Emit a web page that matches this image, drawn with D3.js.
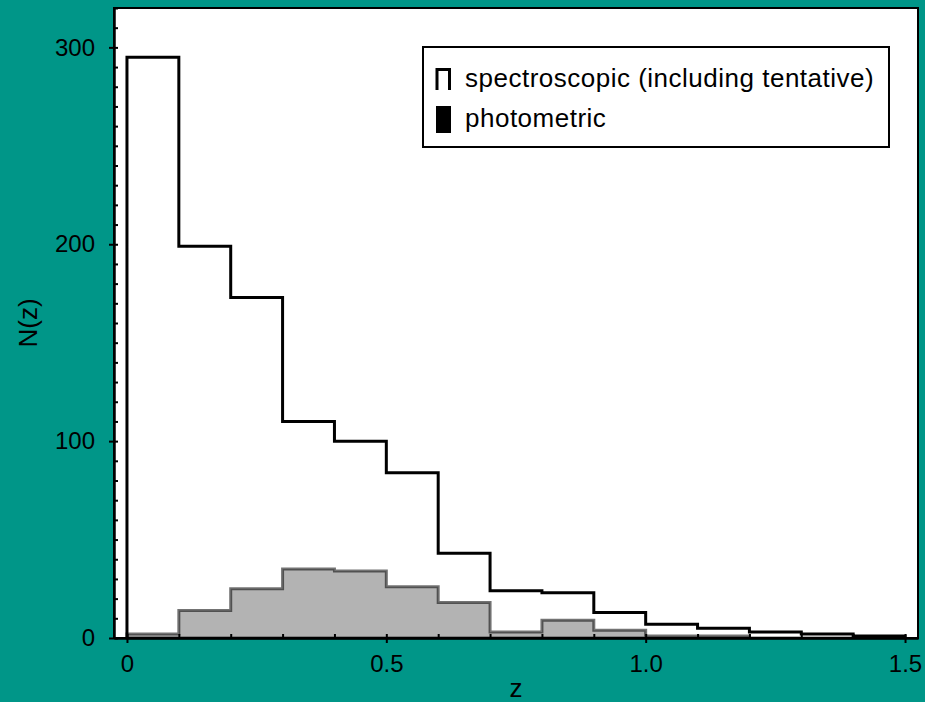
<!DOCTYPE html>
<html>
<head>
<meta charset="utf-8">
<script src="https://cdn.jsdelivr.net/npm/d3@7"></script>
<style>
  html, body { margin: 0; padding: 0; background: #009688; }
  svg { display: block; }
  text { font-family: "Liberation Sans", Arial, sans-serif; fill: #000; }
</style>
</head>
<body>
<svg id="chart" width="925" height="702"></svg>
<script>
// Redshift bins (left edges, width 0.1)
const binEdges = [0, 0.1, 0.2, 0.3, 0.4, 0.5, 0.6, 0.7, 0.8, 0.9, 1.0, 1.1, 1.2, 1.3, 1.4];
const binWidth = 0.1;

// Counts per bin
const spectroscopic = [295, 199, 173, 110, 100, 84, 43, 24, 23, 13, 7, 5, 3, 2, 1];
const photometric   = [2, 14, 25, 35, 34, 26, 18, 3, 9, 4, 1, 1, 0, 0, 0];

// Axis ticks
const xMajorTicks = [0, 0.5, 1.0, 1.5];
const xMinorTicks = [0, 1, 2, 3, 4, 5, 6, 7, 8, 9, 10, 11, 12, 13, 14, 15].map(d => d / 10);
const yMajorTicks = [0, 100, 200, 300];
const yMinorTicks = d3.range(0, 321, 10);

const legendLabels = ["spectroscopic (including tentative)", "photometric"];

const svg = d3.select("#chart");
const plot = { left: 114, right: 918, top: 8, bottom: 638 };

const x = d3.scaleLinear().domain([-0.025, 1.525]).range([plot.left, plot.right]);
const y = d3.scaleLinear().domain([0, 320]).range([plot.bottom, plot.top]);

// Plot background
svg.append("rect")
  .attr("x", plot.left).attr("y", plot.top)
  .attr("width", plot.right - plot.left).attr("height", plot.bottom - plot.top)
  .attr("fill", "#fff");

// Step points for a histogram: one point per bin edge, last value repeated at the end
function stepPoints(values) {
  const pts = binEdges.map((e, i) => [e, values[i]]);
  const last = binEdges[binEdges.length - 1] + binWidth;
  pts.push([last, values[values.length - 1]]);
  return pts;
}

// Photometric: filled step histogram
const photoPts = stepPoints(photometric);
const area = d3.area()
  .curve(d3.curveStepAfter)
  .x(d => x(d[0]))
  .y0(y(0))
  .y1(d => y(d[1]));
svg.append("path")
  .attr("d", area(photoPts))
  .attr("fill", "#b3b3b3")
  .attr("stroke", "rgba(0,0,0,0.55)")
  .attr("stroke-width", 3)
  .attr("stroke-linejoin", "miter");

// Spectroscopic: open step outline
const specPts = stepPoints(spectroscopic);
const first = specPts[0], lastPt = specPts[specPts.length - 1];
const specLinePts = [[first[0], 0], ...specPts, [lastPt[0], 0]];
const line = d3.line()
  .curve(d3.curveStepAfter)
  .x(d => x(d[0]))
  .y(d => y(d[1]));
svg.append("path")
  .attr("d", line(specLinePts))
  .attr("fill", "none")
  .attr("stroke", "#000")
  .attr("stroke-width", 3)
  .attr("stroke-linejoin", "miter");

// Frame
svg.append("rect")
  .attr("x", plot.left).attr("y", plot.top)
  .attr("width", plot.right - plot.left).attr("height", plot.bottom - plot.top)
  .attr("fill", "none")
  .attr("stroke", "#000")
  .attr("stroke-width", 2);

// Axes
const fmtX = d => d === 0 ? "0" : d3.format(".1f")(d);

function styleAxis(g) {
  g.selectAll(".domain").attr("stroke", "#000").attr("stroke-width", 2);
  g.selectAll(".tick line").attr("stroke", "#000").attr("stroke-width", 2);
  g.selectAll(".tick text").style("font-size", "24px").style("font-family", "'Liberation Sans', Arial, sans-serif").attr("fill", "#000");
}

// x axis: major ticks outward with labels, ticks inward at every 0.1
const gx = svg.append("g").attr("transform", `translate(0,${plot.bottom})`)
  .call(d3.axisBottom(x).tickValues(xMajorTicks).tickFormat(fmtX).tickSizeInner(5).tickSizeOuter(0).tickPadding(12));
styleAxis(gx);
gx.selectAll(".tick text").attr("dy", "0.71em");
const gxIn = svg.append("g").attr("transform", `translate(0,${plot.bottom})`)
  .call(d3.axisTop(x).tickValues(xMinorTicks).tickFormat("").tickSizeInner(4).tickSizeOuter(0));
styleAxis(gxIn);

// y axis: major ticks outward with labels, ticks inward every 10
const gy = svg.append("g").attr("transform", `translate(${plot.left},0)`)
  .call(d3.axisLeft(y).tickValues(yMajorTicks).tickFormat(d3.format("d")).tickSizeInner(5).tickSizeOuter(0).tickPadding(14));
styleAxis(gy);
const gyIn = svg.append("g").attr("transform", `translate(${plot.left},0)`)
  .call(d3.axisRight(y).tickValues(yMinorTicks).tickFormat("").tickSizeInner(4).tickSizeOuter(0));
styleAxis(gyIn);

// Axis titles
svg.append("text")
  .attr("x", (plot.left + plot.right) / 2)
  .attr("y", 697)
  .attr("text-anchor", "middle")
  .style("font-size", "26px")
  .text("z");
svg.append("text")
  .attr("transform", `translate(37,${(plot.top + plot.bottom) / 2}) rotate(-90)`)
  .attr("text-anchor", "middle")
  .style("font-size", "26px")
  .text("N(z)");

// Legend
const lg = svg.append("g");
lg.append("rect")
  .attr("x", 423).attr("y", 47).attr("width", 466).attr("height", 100)
  .attr("fill", "#fff").attr("stroke", "#000").attr("stroke-width", 2);
lg.append("path")
  .attr("d", "M437,90V69.5H449.5V90")
  .attr("fill", "none").attr("stroke", "#000").attr("stroke-width", 3);
lg.append("rect")
  .attr("x", 436).attr("y", 106).attr("width", 15).attr("height", 27)
  .attr("fill", "#000");
lg.selectAll("text.lbl").data(legendLabels).join("text")
  .attr("class", "lbl")
  .attr("x", 465)
  .attr("y", (d, i) => 87 + i * 40)
  .style("font-size", "26px")
  .style("letter-spacing", "0.5px")
  .text(d => d);
</script>
</body>
</html>
